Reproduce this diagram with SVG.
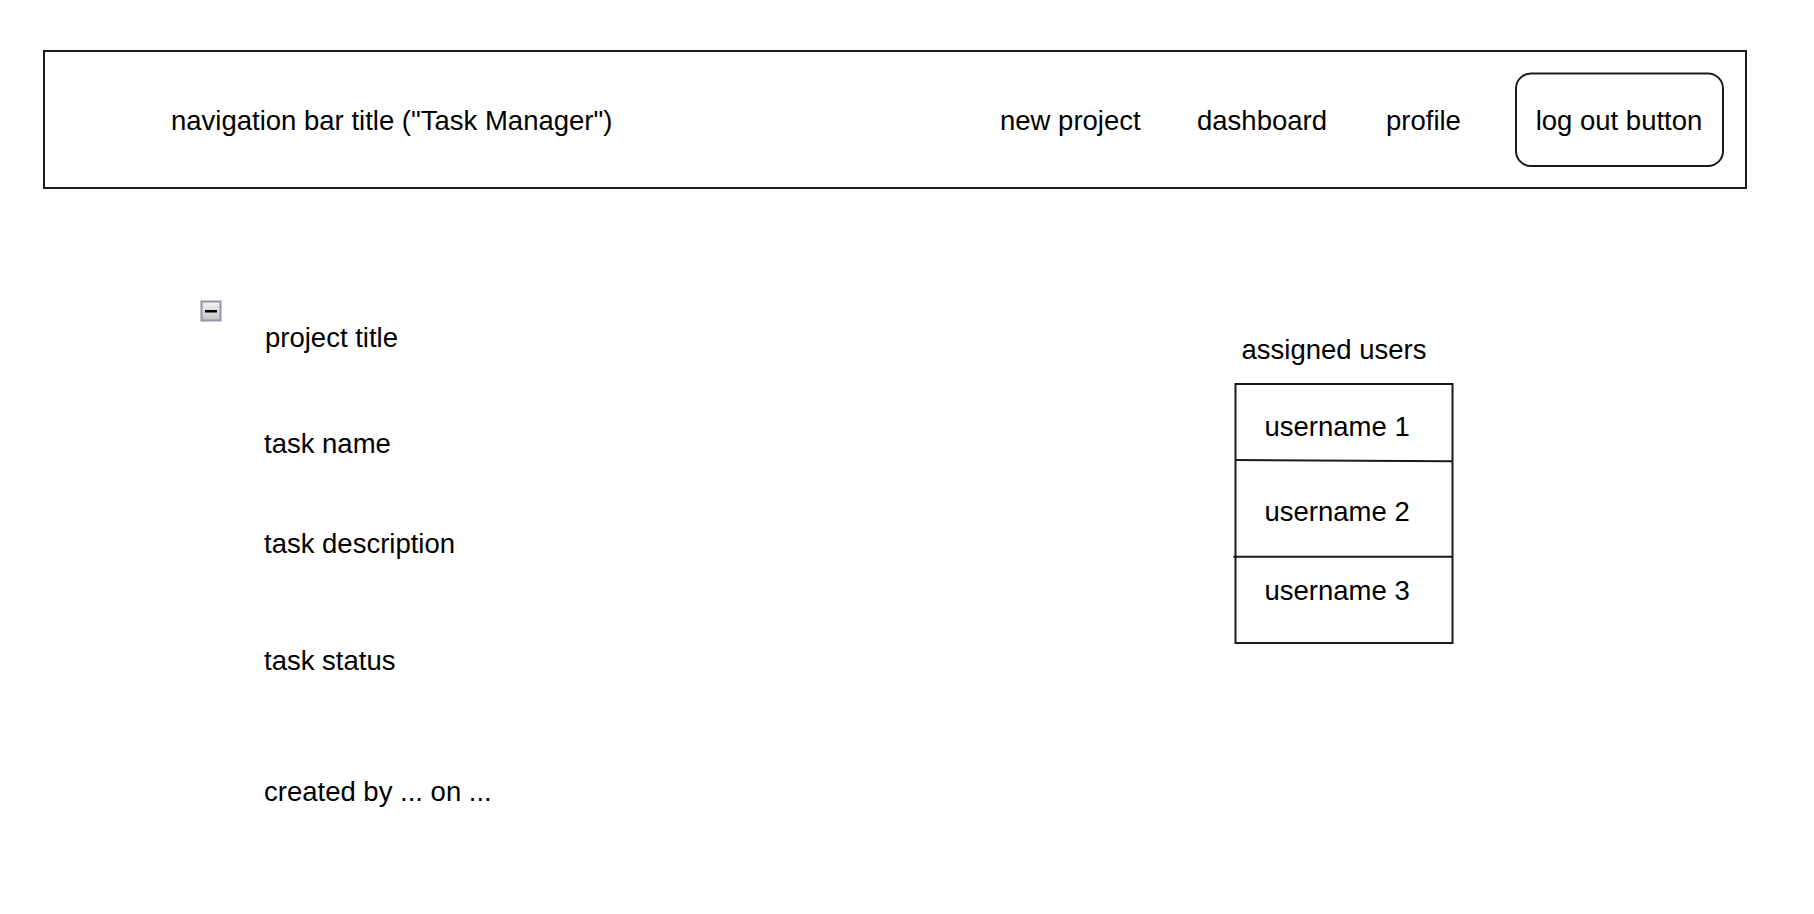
<svg xmlns="http://www.w3.org/2000/svg" width="1814" height="914" viewBox="0 0 1814 914">
<style>
text{font-family:"Liberation Sans",Arial,Helvetica,sans-serif;font-size:27.5px;fill:#000}
.box{fill:#fff;stroke:#1a1a1a;stroke-width:2}
.ln{stroke:#1a1a1a;stroke-width:2;fill:none}
</style>
<defs>
<linearGradient id="ig" x1="0" y1="0" x2="0" y2="1">
<stop offset="0" stop-color="#f4f4f4"/>
<stop offset="1" stop-color="#c4c4c4"/>
</linearGradient>
</defs>
<rect width="1814" height="914" fill="#fff"/>
<g id="navbar">
<rect class="box" x="44" y="51" width="1702" height="137"/>
<text x="171" y="129.5">navigation bar title ("Task Manager")</text>
</g>
<g id="new-project"><text x="1000" y="129.5">new project</text></g>
<g id="dashboard"><text x="1197" y="129.5">dashboard</text></g>
<g id="profile"><text x="1386" y="129.5">profile</text></g>
<g id="logout">
<rect class="box" x="1516" y="73.5" width="207" height="92.5" rx="15" ry="15"/>
<text x="1619" y="129.5" text-anchor="middle">log out button</text>
</g>
<g id="collapse-icon">
<rect x="201.5" y="301.5" width="19" height="19" fill="url(#ig)" stroke="#8e96a8" stroke-width="2"/>
<rect x="205" y="310" width="12" height="2.5" fill="#000"/>
</g>
<g id="project-title"><text x="265" y="347">project title</text></g>
<g id="task-name"><text x="264" y="453">task name</text></g>
<g id="task-description"><text x="264" y="552.5">task description</text></g>
<g id="task-status"><text x="264" y="669.5">task status</text></g>
<g id="created-by"><text x="264" y="801">created by ... on ...</text></g>
<g id="assigned-users">
<text x="1241.5" y="358.5">assigned users</text>
<rect class="box" x="1235.5" y="384" width="217" height="259"/>
</g>
<g id="connectors">
<line class="ln" x1="1235.5" y1="460" x2="1452.5" y2="461.3"/>
<line class="ln" x1="1233.3" y1="556.7" x2="1452.5" y2="556.7"/>
</g>
<g id="username-1"><text x="1264.5" y="435.5">username 1</text></g>
<g id="username-2"><text x="1264.5" y="520.5">username 2</text></g>
<g id="username-3"><text x="1264.5" y="600">username 3</text></g>
</svg>
